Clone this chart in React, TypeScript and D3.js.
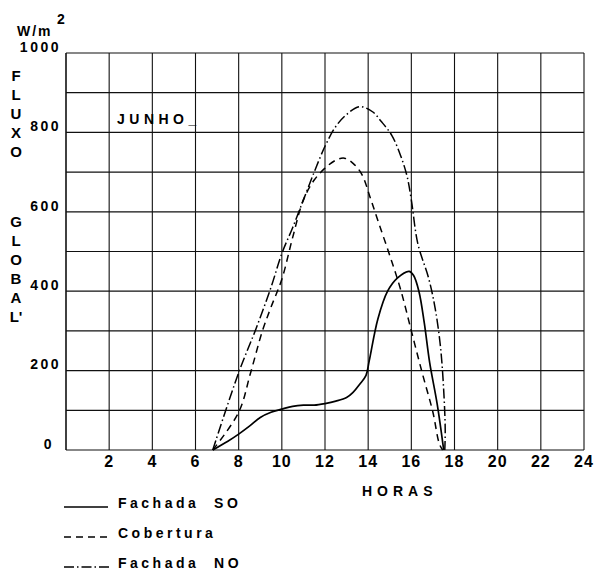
import React, { useRef, useEffect } from 'react'
import * as d3 from 'd3'

// hours of the day, W/m2
const fachadaSO: [number, number][] = [
    [6.8, 0], [7.5, 22], [8, 40], [8.5, 60], [9, 82], [9.5, 95], [10, 103], [10.5, 110],
    [11, 113], [11.5, 113], [12, 117], [12.5, 123], [13, 132], [13.3, 145], [13.6, 165],
    [13.9, 188], [14.05, 225], [14.45, 330], [14.9, 400], [15.35, 433], [15.9, 450],
    [16.1, 440], [16.35, 400], [16.6, 320], [16.85, 220], [17.2, 115], [17.5, 0]
]
const cobertura: [number, number][] = [
    [6.8, 0], [8, 95], [8.55, 194], [9.1, 300], [9.5, 360], [10, 430], [10.5, 535],
    [11, 630], [11.5, 680], [12, 710], [12.5, 730], [12.9, 735], [13.3, 722], [13.7, 695],
    [14.1, 635], [14.5, 570], [15, 490], [15.5, 405], [16, 300], [16.5, 195], [17, 95],
    [17.3, 15], [17.45, 0]
]
const fachadaNO: [number, number][] = [
    [6.8, 0], [8, 195], [8.8, 305], [9.5, 410], [10, 495], [10.5, 560], [11, 630],
    [11.5, 700], [12, 765], [12.5, 815], [13, 845], [13.6, 865], [14.2, 852], [14.6, 828],
    [15.1, 792], [15.5, 742], [15.8, 690], [16, 630], [16.3, 520], [16.8, 433],
    [17.1, 358], [17.35, 260], [17.5, 150], [17.57, 50], [17.55, 0]
]

const xTicks = [2, 4, 6, 8, 10, 12, 14, 16, 18, 20, 22, 24]
const yTicks = [0, 200, 400, 600, 800, 1000]
const yGrid = [0, 100, 200, 300, 400, 500, 600, 700, 800, 900, 1000]
const xGrid = [0, 2, 4, 6, 8, 10, 12, 14, 16, 18, 20, 22, 24]
const titleTop = ['F', 'L', 'U', 'X', 'O']
const titleBottom = ['G', 'L', 'O', 'B', 'A', "L'"]

const series = [
    { name: 'Fachada  SO', data: fachadaSO, dash: null },
    { name: 'Cobertura', data: cobertura, dash: '7,5' },
    { name: 'Fachada  NO', data: fachadaNO, dash: '10,3,1.5,3' }
]

const App = () => {
    const ref = useRef<SVGSVGElement | null>(null)

    useEffect(() => {
        const svg = d3.select(ref.current)
        svg.selectAll('*').remove()
        const font = "'Liberation Sans', Arial, sans-serif"

        const x = d3.scaleLinear().domain([0, 24]).range([66, 584])
        const y = d3.scaleLinear().domain([0, 1000]).range([450, 53])

        const grid = svg.append('g').attr('stroke', '#111').attr('stroke-width', 1.2)
        grid.selectAll('line.h').data(yGrid).enter().append('line')
            .attr('x1', x(0)).attr('x2', x(24))
            .attr('y1', d => y(d)).attr('y2', d => y(d))
        grid.selectAll('line.v').data(xGrid).enter().append('line')
            .attr('x1', d => x(d)).attr('x2', d => x(d))
            .attr('y1', y(0)).attr('y2', y(1000))
            .attr('stroke-width', d => d === 0 ? 1.6 : 1.1)

        // x labels
        svg.append('g').selectAll('text').data(xTicks).enter().append('text')
            .attr('x', d => x(d)).attr('y', 463)
            .attr('text-anchor', 'middle').attr('dominant-baseline', 'middle')
            .attr('font-family', font).attr('font-weight', 'bold').attr('font-size', 16)
            .attr('letter-spacing', 1)
            .text(d => d)

        // y labels
        svg.append('g').selectAll('text').data(yTicks).enter().append('text')
            .attr('x', d => d === 0 ? 54 : 61).attr('y', d => y(d) - 5)
            .attr('text-anchor', 'end').attr('dominant-baseline', 'middle')
            .attr('font-family', font).attr('font-weight', 'bold').attr('font-size', 14)
            .attr('letter-spacing', 2.5)
            .text(d => d)

        const letters = svg.append('g')
            .attr('font-family', font).attr('font-weight', 'bold').attr('font-size', 15)
            .attr('text-anchor', 'middle').attr('dominant-baseline', 'middle')
        titleTop.forEach((l, i) => letters.append('text').attr('x', 16).attr('y', 77 + i * 19).text(l))
        titleBottom.forEach((l, i) => letters.append('text').attr('x', 16).attr('y', 223 + i * 19).text(l))

        // unit
        svg.append('text').attr('x', 17).attr('y', 32).attr('dominant-baseline', 'middle')
            .attr('font-family', font).attr('font-weight', 'bold').attr('font-size', 14)
            .attr('letter-spacing', 2).text('W/m')
        svg.append('text').attr('x', 57).attr('y', 20).attr('dominant-baseline', 'middle')
            .attr('font-family', font).attr('font-weight', 'bold').attr('font-size', 14)
            .text('2')

        svg.append('text').attr('x', 117).attr('y', 120).attr('dominant-baseline', 'middle')
            .attr('font-family', font).attr('font-weight', 'bold').attr('font-size', 14)
            .attr('letter-spacing', 4.5).text('JUNHO_')

        svg.append('text').attr('x', 362).attr('y', 492).attr('dominant-baseline', 'middle')
            .attr('font-family', font).attr('font-weight', 'bold').attr('font-size', 14)
            .attr('letter-spacing', 5).text('HORAS')

        const line = d3.line<[number, number]>()
            .x(d => x(d[0])).y(d => y(d[1]))
            .curve(d3.curveCatmullRom.alpha(0.5))

        series.forEach(s => {
            svg.append('path').datum(s.data)
                .attr('fill', 'none').attr('stroke', '#000')
                .attr('stroke-width', s.dash ? 1.5 : 1.7)
                .attr('stroke-dasharray', s.dash)
                .attr('d', line)
        })

        // legend
        const legend = svg.append('g')
        series.forEach((s, i) => {
            const ly = 507 + i * 30
            legend.append('line')
                .attr('x1', 64).attr('x2', i === 2 ? 112 : 108)
                .attr('y1', ly).attr('y2', ly)
                .attr('stroke', '#000').attr('stroke-width', 1.6)
                .attr('stroke-dasharray', s.dash)
            legend.append('text').attr('x', 118).attr('y', ly - 3)
                .attr('dominant-baseline', 'middle')
                .attr('font-family', font).attr('font-weight', 'bold').attr('font-size', 14)
                .attr('letter-spacing', 3.5).attr('xml:space', 'preserve')
                .style('white-space', 'pre')
                .text(s.name)
        })
    }, [])

    return (
        <svg ref={ref} width={607} height={577}
            style={{ position: 'absolute', left: 0, top: 0, background: '#fff' }} />
    )
}

export default App
